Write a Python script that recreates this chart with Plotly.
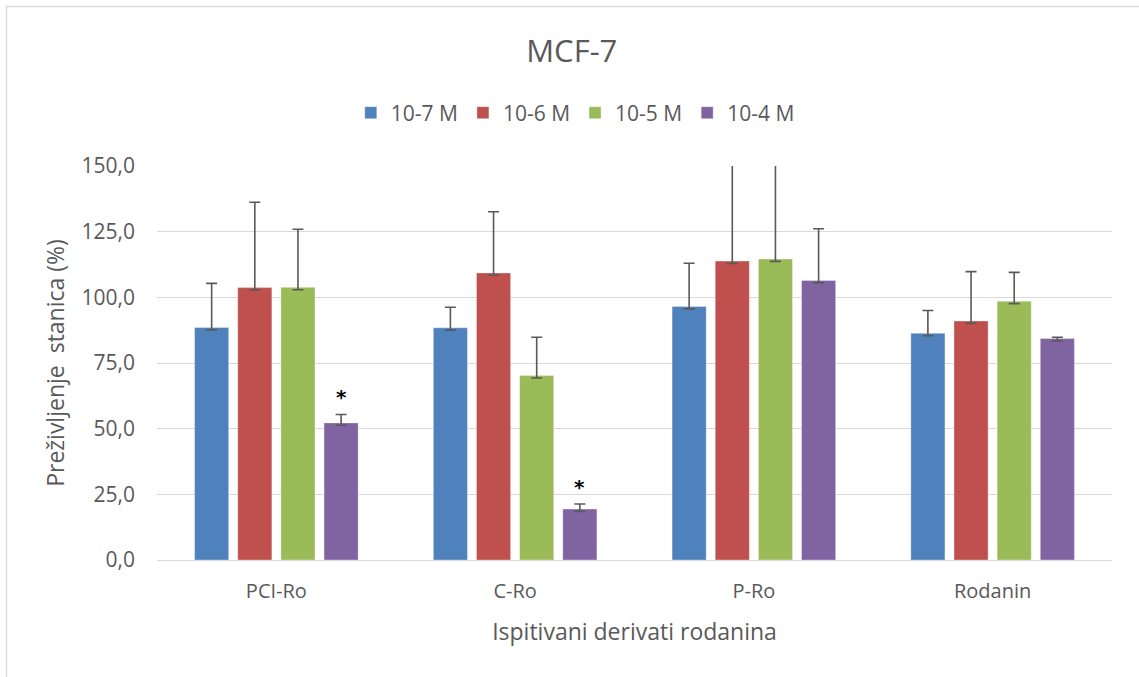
import plotly.graph_objects as go

categories = ["PCI-Ro", "C-Ro", "P-Ro", "Rodanin"]
series_names = ["10-7 M", "10-6 M", "10-5 M", "10-4 M"]
colors = ["#4f81bd", "#c0504d", "#9bbb59", "#8064a2"]

v_1e7 = [88.5, 88.4, 96.5, 86.3]
v_1e6 = [103.7, 109.3, 113.8, 91.0]
v_1e5 = [103.8, 70.2, 114.6, 98.5]
v_1e4 = [52.2, 19.4, 106.4, 84.3]

e_1e7 = [16.8, 7.8, 16.5, 8.7]
e_1e6 = [32.5, 23.3, 45.0, 18.8]
e_1e5 = [22.1, 14.6, 45.0, 11.0]
e_1e4 = [3.2, 1.9, 19.7, 0.5]

e_minus = [0.9, 0.9, 0.9, 0.9]

values = [v_1e7, v_1e6, v_1e5, v_1e4]
errors = [e_1e7, e_1e6, e_1e5, e_1e4]

significant = [("PCI-Ro", 3), ("C-Ro", 3)]

FONT = "Open Sans"
GREY = "#595959"
BARGAP = 0.277
BARGROUPGAP = 0.209

fig = go.Figure()
for name, col, vals, errs in zip(series_names, colors, values, errors):
    fig.add_trace(go.Bar(
        x=categories, y=vals, name=name,
        marker=dict(color=col, line=dict(color="rgba(255,255,255,0.35)", width=1)),
        error_y=dict(type="data", array=errs, arrayminus=e_minus, symmetric=False,
                     color=GREY, thickness=1.6, width=5.5),
    ))

annotations = []
for cat, si in significant:
    ci = categories.index(cat)
    slot = (1 - BARGAP) / len(series_names)
    xpos = ci + (si - (len(series_names) - 1) / 2) * slot
    top = values[si][ci] + errors[si][ci]
    annotations.append(dict(x=xpos, y=top, xref="x", yref="y", text="<b>*</b>",
                            showarrow=False, yanchor="bottom", yshift=3,
                            font=dict(family="DejaVu Sans", size=20, color="black")))

fig.update_layout(
    width=1139, height=677,
    margin=dict(l=157, r=27, t=166, b=117),
    paper_bgcolor="white", plot_bgcolor="white",
    barmode="group", bargap=BARGAP, bargroupgap=BARGROUPGAP,
    separators=", ",
    font=dict(family=FONT, color=GREY, size=18),
    title=dict(text="MCF-7", x=0.502, xanchor="center", y=1 - 51 / 677, yanchor="middle",
               font=dict(family=FONT, size=31, color=GREY)),
    legend=dict(orientation="h", x=0.438, xanchor="center", y=1 - 113 / 677, yref="container",
                yanchor="middle", font=dict(family=FONT, size=21, color=GREY),
                itemwidth=30, traceorder="normal"),
    showlegend=True,
    annotations=annotations,
    shapes=[dict(type="rect", xref="paper", yref="paper",
                 x0=(6.5 - 157) / 955, x1=(1160 - 157) / 955,
                 y0=(560 - 700) / 394, y1=(560 - 6.5) / 394,
                 line=dict(color="#d9d9d9", width=1.3), layer="below")],
)

fig.update_yaxes(range=[0, 150], dtick=25, tickformat=".1f", showgrid=True,
                 gridcolor="#d9d9d9", gridwidth=1, zeroline=False, showline=False,
                 ticks="", ticklabelstandoff=21,
                 tickfont=dict(family=FONT, size=21, color=GREY),
                 title=dict(text="Preživljenje\u00a0 stanica (%)", standoff=10,
                            font=dict(family=FONT, size=23, color=GREY)))
fig.update_xaxes(showline=True, linecolor="#d9d9d9", linewidth=1, ticks="",
                 ticklabelstandoff=13,
                 tickfont=dict(family=FONT, size=20, color=GREY),
                 title=dict(text="Ispitivani derivati rodanina", standoff=20,
                            font=dict(family=FONT, size=23, color=GREY)))

fig.write_html("out.html")
